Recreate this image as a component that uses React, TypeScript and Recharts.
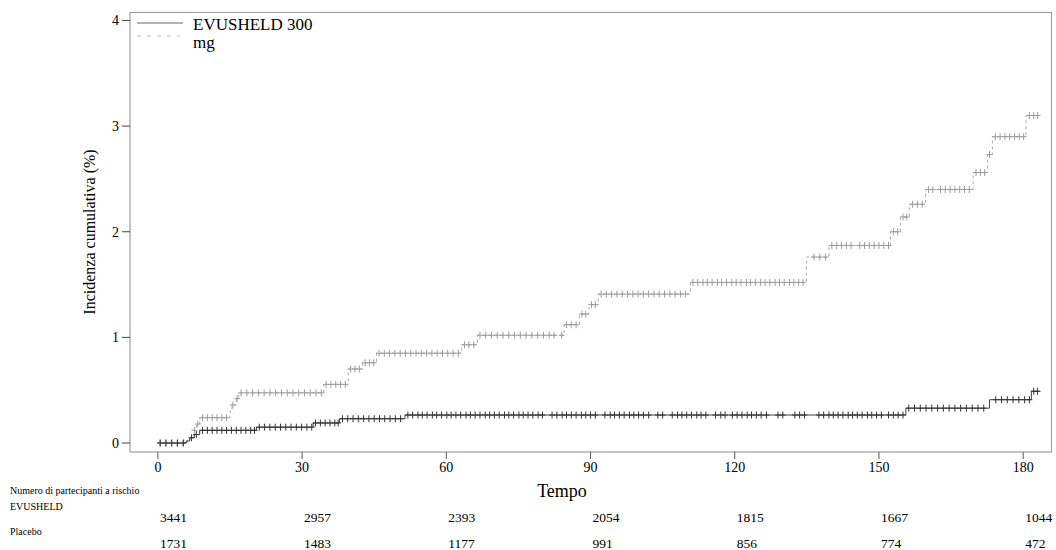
import React from 'react';
import { ComposedChart, Line, Scatter, XAxis, YAxis } from 'recharts';

const serif = '"Liberation Serif", "Times New Roman", serif';

const riskDays = [0, 30, 60, 90, 120, 150, 180];
const evusheldAtRisk = [3441, 2957, 2393, 2054, 1815, 1667, 1044];
const placeboAtRisk = [1731, 1483, 1177, 991, 856, 774, 472];
const yTicks = [0, 1, 2, 3, 4];

// step curves: day where each step starts, cumulative incidence (%)
const evusheldStepDays = [0, 5.9, 6.6, 7.6, 8.7, 20.5, 32.3, 37.8, 51.4, 155.6, 173.0, 181.7, 183.4];
const evusheldStepPct = [0, 0.02, 0.05, 0.08, 0.12, 0.15, 0.19, 0.23, 0.265, 0.33, 0.41, 0.49, 0.49];

const placeboStepDays = [
  0, 6.2, 6.9, 7.4, 8.0, 8.7, 15.0, 15.4, 16.3, 16.8, 34.5, 39.6, 42.6, 45.5, 63.2, 66.5,
  84.5, 87.7, 89.7, 91.6, 110.8, 134.9, 139.6, 152.4, 154.5, 156.3, 159.7, 169.6, 172.6,
  173.6, 180.6, 183.5,
];
const placeboStepPct = [
  0, 0.03, 0.07, 0.12, 0.18, 0.24, 0.3, 0.36, 0.42, 0.475, 0.555, 0.7, 0.76, 0.85, 0.93, 1.02,
  1.12, 1.22, 1.31, 1.41, 1.52, 1.76, 1.87, 2.0, 2.14, 2.26, 2.4, 2.56, 2.73,
  2.9, 3.1, 3.1,
];

// censored participants (+ marks)
const evusheldCensorDays = [
  0.5, 1.7, 2.9, 4.1, 5.3, 7.0, 8.0,
  9.3, 10.3, 11.3, 12.3, 13.3, 14.3, 15.3, 16.3, 17.3, 18.3, 19.3, 20.1,
  21.1, 22.2, 23.3, 24.4, 25.5, 26.6, 27.7, 28.8, 29.9, 31.0, 32.0,
  32.8, 33.8, 34.8, 35.8, 36.8, 37.5,
  38.4, 39.5, 40.6, 41.7, 42.8, 43.9, 45.0, 46.1, 47.2, 48.3, 49.4, 50.5,
  52.0, 53.0, 54.1, 55.0, 56.0, 57.1, 58.0, 59.0, 60.1, 61.0, 62.0, 63.0, 64.1, 65.0, 66.0,
  67.0, 68.1, 69.0, 70.0, 71.0, 72.1, 73.0, 74.0, 75.1, 76.0, 77.0, 78.0, 79.1, 80.0, 82.0,
  83.0, 84.1, 85.0, 86.0, 87.0, 88.1, 89.0, 90.0, 91.0, 93.0, 94.1, 95.0, 96.0, 97.0, 98.1,
  99.0, 100.0, 101.0, 102.1, 104.0, 105.0, 107.0, 108.1, 109.0, 110.0, 111.0, 112.1, 113.0,
  114.0, 116.0, 117.1, 118.0, 119.5, 120.5, 121.5, 122.6, 123.5, 124.5, 125.5, 126.6, 129.0,
  130.0, 132.5, 133.5, 134.5, 137.5, 138.5, 139.6, 140.5, 141.5, 142.5, 143.6, 144.5, 145.5,
  146.5, 147.6, 148.5, 149.5, 150.5, 152.0, 153.0, 154.0, 155.0,
  156.2, 157.4, 158.6, 159.8, 161.0, 162.2, 163.4, 164.6, 165.8, 167.0, 168.2, 169.4, 170.6, 171.8,
  174.3, 175.5, 176.7, 177.9, 179.1, 180.3, 181.3,
  182.2, 183.0,
];

const placeboCensorDays = [
  0.4, 1.6, 2.8, 4.0, 5.2, 7.6, 8.3,
  9.3, 10.3, 11.3, 12.3, 13.3, 14.3, 15.6, 16.5,
  17.3, 18.5, 19.7, 20.9, 22.1, 23.3, 24.5, 25.7, 26.9, 28.1, 29.3, 30.5, 31.7, 32.9, 34.0,
  35.0, 36.0, 37.0, 38.0, 39.0,
  40.1, 41.0, 41.9, 43.1, 44.0, 44.9,
  46.0, 47.1, 48.2, 49.3, 50.4, 51.5, 52.6, 53.7, 54.8, 55.9, 57.0, 58.1, 59.2, 60.3, 61.4, 62.5,
  63.8, 64.7, 65.7,
  67.0, 68.2, 69.4, 70.6, 71.8, 73.0, 74.2, 75.4, 76.6, 77.8, 79.0, 80.2, 81.4, 82.4, 84.0,
  85.0, 86.0, 87.0, 88.2, 89.0, 90.2, 91.0,
  92.2, 93.3, 94.4, 95.5, 96.6, 97.7, 98.8, 99.9, 101.0, 102.1, 103.2, 104.3, 105.4, 106.5,
  107.6, 108.7, 109.8,
  111.3, 112.3, 113.4, 114.3, 115.3, 116.4, 117.3, 118.3, 119.4, 120.3, 121.3, 122.4, 123.3,
  124.3, 125.4, 126.3, 127.3, 128.4, 129.3, 130.3, 131.4, 132.3, 133.3, 134.2,
  136.5, 137.7, 138.9,
  140.2, 141.2, 142.2, 143.2, 144.2, 146.0, 147.0, 148.0, 149.0, 150.0, 151.0, 152.0,
  153.0, 153.9, 155.0, 155.8, 157.0, 158.0, 159.0,
  160.3, 161.2, 162.8, 163.8, 164.8, 165.8, 166.8, 167.8, 168.8,
  170.2, 171.1, 172.0, 173.0,
  174.2, 175.2, 176.2, 177.2, 178.2, 179.2, 180.1,
  181.3, 182.2, 183.0,
];

const toSteps = (days: number[], pct: number[]) => days.map((t, i) => ({ t, v: pct[i] }));

// a censor mark sits on the curve at its day
const onCurve = (days: number[], stepDays: number[], stepPct: number[]) =>
  days.map((t) => {
    let i = 0;
    while (i + 1 < stepDays.length && stepDays[i + 1] <= t) i++;
    return { t, v: stepPct[i] };
  });

const evusheldSteps = toSteps(evusheldStepDays, evusheldStepPct);
const placeboSteps = toSteps(placeboStepDays, placeboStepPct);
const evusheldCensor = onCurve(evusheldCensorDays, evusheldStepDays, evusheldStepPct);
const placeboCensor = onCurve(placeboCensorDays, placeboStepDays, placeboStepPct);

const xDomain: [number, number] = [-5.8, 186];

const plus = (color: string) => (props: any) => {
  const { cx, cy } = props;
  if (cx == null || cy == null) return <g />;
  return (
    <g stroke={color} strokeWidth={1}>
      <line x1={cx - 3} x2={cx + 3} y1={cy} y2={cy} />
      <line x1={cx} x2={cx} y1={cy - 3.5} y2={cy + 3.5} />
    </g>
  );
};

const riskTick = (counts: number[]) => (props: any) => {
  const { x, y, payload } = props;
  const i = riskDays.indexOf(payload.value);
  return (
    <text x={x + 2} y={y} dy="0.35em" fontSize={13.5} fontFamily={serif} fill="#000">
      {counts[i]}
    </text>
  );
};

const abs = (left: number, top: number, fontSize: number): React.CSSProperties => ({
  position: 'absolute',
  left,
  top: top - fontSize / 2,
  fontSize,
  lineHeight: `${fontSize}px`,
  fontFamily: serif,
  color: '#000',
  whiteSpace: 'nowrap',
  pointerEvents: 'none',
});

export default function App() {
  return (
    <div style={{ position: 'absolute', left: 0, top: 0, width: 1056, height: 550, background: '#fff' }}>
      <ComposedChart width={1056} height={550} margin={{ top: 12, right: 4, bottom: 0, left: 0 }}>
        <XAxis
          type="number"
          dataKey="t"
          domain={xDomain}
          ticks={riskDays}
          allowDataOverflow
          height={52}
          tickSize={7}
          tickMargin={3}
          stroke="#888"
          tickLine={{ stroke: '#555' }}
          tick={{ fill: '#000', fontSize: 14, fontFamily: serif }}
        />
        <XAxis
          xAxisId="r1"
          type="number"
          dataKey="t"
          domain={xDomain}
          ticks={riskDays}
          allowDataOverflow
          height={28}
          axisLine={false}
          tickLine={false}
          tickSize={0}
          tickMargin={13}
          tick={riskTick(evusheldAtRisk)}
        />
        <XAxis
          xAxisId="r2"
          type="number"
          dataKey="t"
          domain={xDomain}
          ticks={riskDays}
          allowDataOverflow
          height={18}
          axisLine={false}
          tickLine={false}
          tickSize={0}
          tickMargin={11}
          tick={riskTick(placeboAtRisk)}
        />
        <YAxis
          type="number"
          dataKey="v"
          domain={[-0.085, 4.08]}
          ticks={yTicks}
          allowDataOverflow
          width={130}
          tickSize={8}
          tickMargin={3}
          stroke="#888"
          tickLine={{ stroke: '#444' }}
          tick={{ fill: '#000', fontSize: 14, fontFamily: serif }}
        />
        <Line
          data={placeboSteps}
          dataKey="v"
          type="stepAfter"
          stroke="#aaa"
          strokeDasharray="3 3"
          dot={false}
          isAnimationActive={false}
        />
        <Scatter data={placeboCensor} dataKey="v" shape={plus('#9c9c9c')} isAnimationActive={false} />
        <Line
          data={evusheldSteps}
          dataKey="v"
          type="stepAfter"
          stroke="#444"
          dot={false}
          isAnimationActive={false}
        />
        <Scatter data={evusheldCensor} dataKey="v" shape={plus('#333')} isAnimationActive={false} />
      </ComposedChart>

      {/* top and right frame of the plot */}
      <div
        style={{
          position: 'absolute',
          left: 130,
          top: 12,
          width: 922,
          height: 440,
          borderTop: '1px solid #999',
          borderRight: '1px solid #999',
          boxSizing: 'border-box',
          pointerEvents: 'none',
        }}
      />

      {/* legend */}
      <svg width={330} height={60} style={{ position: 'absolute', left: 0, top: 0, pointerEvents: 'none' }}>
        <line x1={137} x2={183} y1={23} y2={23} stroke="#666" />
        <line x1={137} x2={180} y1={36} y2={36} stroke="#bbb" strokeDasharray="4 6" />
        <text x={193} y={30} fontSize={17} fontFamily={serif} fill="#000">EVUSHELD 300</text>
        <text x={193} y={48} fontSize={17} fontFamily={serif} fill="#000">mg</text>
      </svg>

      <div
        style={{
          ...abs(90, 232, 16),
          transform: 'translate(-50%, 0) rotate(-90deg)',
        }}
      >
        Incidenza cumulativa (%)
      </div>
      <div style={{ ...abs(562, 491, 18), transform: 'translateX(-50%)' }}>Tempo</div>

      <div style={abs(10, 491, 10)}>Numero di partecipanti a rischio</div>
      <div style={abs(10, 507, 10)}>EVUSHELD</div>
      <div style={abs(10, 532, 10)}>Placebo</div>
    </div>
  );
}
